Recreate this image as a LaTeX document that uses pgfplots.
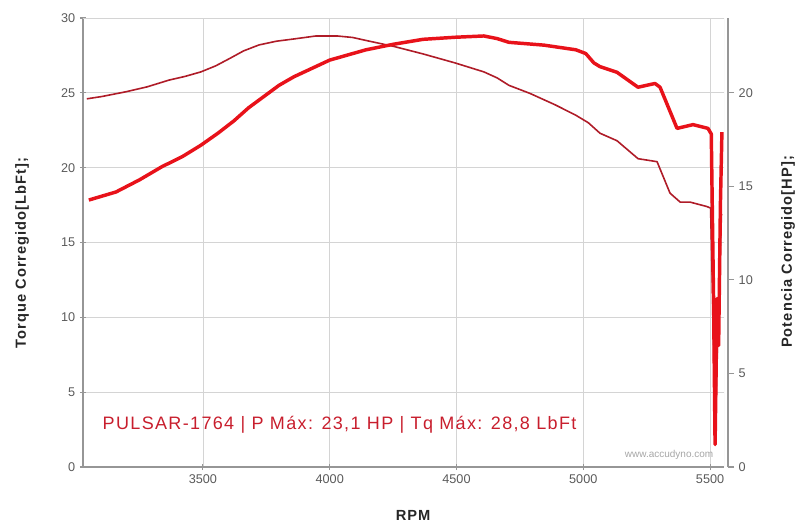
\documentclass[border=0pt]{standalone}
\usepackage{fontspec}
\setmainfont{Liberation Sans}
\usepackage{pgfplots}
\pgfplotsset{compat=1.18}
\definecolor{tqred}{RGB}{175,28,40}
\definecolor{hpred}{RGB}{232,18,26}
\definecolor{annred}{RGB}{200,30,45}
\definecolor{axgray}{RGB}{150,150,150}
\definecolor{gridgray}{RGB}{212,212,212}
\definecolor{ticktext}{RGB}{90,90,90}
\pgfplotsset{
  dyno/.style={
    scale only axis, height=336.75pt,
    xmin=3027, ymin=0,
    tick align=outside, major tick length=4.5pt,
    tick style={draw=axgray, line width=0.8pt},
    tick label style={font=\fontsize{9.5}{11}\selectfont, text=ticktext},
    /pgf/number format/assume math mode=true,
    /pgf/number format/1000 sep={},
    label style={font=\fontsize{11}{13}\selectfont\bfseries\addfontfeature{LetterSpace=7}, text=black!85},
  },
}
\begin{document}
\begin{tikzpicture}
\useasboundingbox (-62.25pt,-44.25pt) rectangle (537pt,350.25pt);
% torque, left axis
\begin{axis}[dyno, at={(0,0)}, anchor=south west,
  width=480.75pt, xmax=5555, ymax=30,
  axis x line=bottom, axis y line=left, axis line style={-},
  x axis line style={draw=axgray, line width=2pt},
  y axis line style={draw=axgray, line width=1.5pt},
  xtick={3500,4000,4500,5000,5500}, ytick={0,5,...,30},
  grid=major, grid style={draw=gridgray, line width=0.6pt},
  xlabel={RPM}, ylabel={Torque Corregido[LbFt];},
  xlabel style={at={(axis description cs:0.515,-0.109)}, anchor=center},
  ylabel style={at={(axis description cs:-0.095,0.477)}, anchor=center},
]
\draw[gridgray, line width=0.6pt] (rel axis cs:0,1) -- (rel axis cs:1,1) -- (rel axis cs:1,0);
\addplot[tqred, line width=1.2pt, line join=round] coordinates {
  (3042,24.6) (3100,24.75) (3196,25.07) (3280,25.4) (3366,25.85) (3430,26.1)
  (3492,26.4) (3550,26.8) (3606,27.3) (3660,27.8) (3721,28.2) (3790,28.45)
  (3859,28.6) (3946,28.8) (4029,28.8) (4090,28.7) (4143,28.5) (4253,28.1)
  (4368,27.6) (4494,27.0) (4608,26.4) (4660,26.0) (4707,25.5) (4790,24.96)
  (4889,24.2) (4971,23.5) (5020,23.0) (5066,22.3) (5133,21.8) (5216,20.6)
  (5291,20.4) (5342,18.3) (5382,17.7) (5421,17.7) (5488,17.4) (5502,17.3)
  (5512,10) (5520,1.5) (5530,9) (5545,16.9)
};
\node[anchor=west, text=annred, font=\fontsize{13.5}{15}\selectfont\addfontfeature{LetterSpace=7.5}]
  at (rel axis cs:0.0234,0.0935) {PULSAR-1764 | P Máx: 23,1 HP | Tq Máx: 28,8 LbFt};
\node[anchor=east, text=black!35, font=\fontsize{7.5}{9}\selectfont]
  at (rel axis cs:0.9906,0.0267) {www.accudyno.com};
\end{axis}
% power, right axis
\begin{axis}[dyno, at={(0,0)}, anchor=south west,
  width=483.75pt, xmax=5571, ymax=24,
  axis x line=none, axis y line*=right, axis line style={-},
  y axis line style={draw=axgray, line width=1.5pt},
  ytick={0,5,...,20},
  ylabel={Potencia Corregido[HP];},
  ylabel style={at={(axis description cs:1.093,0.479)}, anchor=center},
]
\addplot[hpred, line width=2.6pt, line join=round] coordinates {
  (3050,14.27) (3157,14.7) (3250,15.35) (3338,16.05) (3420,16.6) (3492,17.2)
  (3560,17.85) (3622,18.5) (3680,19.2) (3740,19.8) (3800,20.4) (3859,20.86)
  (4000,21.75) (4143,22.3) (4253,22.6) (4368,22.86) (4494,22.97) (4608,23.04)
  (4660,22.9) (4707,22.7) (4845,22.55) (4971,22.3) (5010,22.1) (5042,21.6)
  (5066,21.4) (5133,21.1) (5216,20.3) (5283,20.5) (5303,20.3) (5370,18.1)
  (5433,18.3) (5492,18.1) (5505,17.8) (5514,9) (5520,1.2) (5528,9) (5534,6.5)
  (5541,14) (5547,17.9)
};
\end{axis}
\end{tikzpicture}
\end{document}
